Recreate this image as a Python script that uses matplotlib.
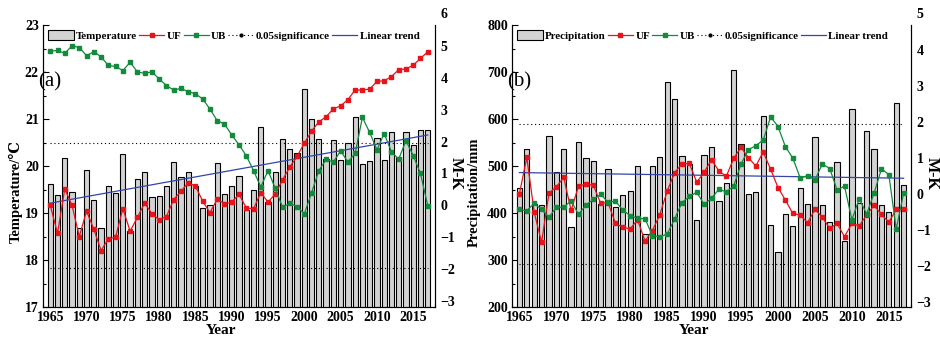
import matplotlib
matplotlib.use('Agg')
import matplotlib.pyplot as plt
from matplotlib.patches import Patch
from matplotlib.lines import Line2D
from matplotlib.ticker import MultipleLocator

plt.rcParams['font.family'] = ['Liberation Serif', 'DejaVu Serif']

years = list(range(1965, 2018))

temperature = [19.62, 19.38, 20.18, 19.45, 18.69, 19.92, 19.27, 18.68, 19.58, 19.42,
               20.25, 18.62, 19.73, 19.88, 19.35, 19.37, 19.57, 20.09, 19.77, 19.87,
               19.57, 19.11, 19.16, 20.07, 19.40, 19.57, 19.78, 19.06, 19.50, 20.82,
               19.23, 19.87, 20.57, 20.37, 20.28, 21.64, 20.99, 20.57, 20.15, 20.55,
               20.12, 20.50, 21.04, 20.04, 20.11, 20.59, 20.12, 20.73, 20.19, 20.73,
               20.45, 20.76, 20.76]
temp_uf = [0.0, -0.88, 0.52, 0.0, -0.98, -0.18, -0.75, -1.42, -1.05, -1.0,
           -0.10, -0.81, -0.38, 0.07, -0.26, -0.45, -0.35, 0.18, 0.44, 0.71,
           0.60, 0.13, -0.23, 0.19, 0.05, 0.10, 0.35, -0.08, -0.11, 0.40,
           0.10, 0.36, 0.80, 1.20, 1.54, 1.95, 2.33, 2.62, 2.78, 3.03,
           3.12, 3.32, 3.62, 3.62, 3.65, 3.89, 3.91, 4.04, 4.26, 4.28,
           4.40, 4.61, 4.82]
temp_ub = [4.84, 4.86, 4.77, 5.01, 4.95, 4.70, 4.82, 4.66, 4.39, 4.36,
           4.23, 4.49, 4.19, 4.14, 4.19, 3.97, 3.76, 3.62, 3.67, 3.57,
           3.50, 3.34, 3.02, 2.66, 2.55, 2.21, 1.90, 1.56, 1.09, 0.58,
           1.09, 0.53, -0.06, 0.06, -0.04, -0.27, 0.40, 1.09, 1.44, 1.36,
           1.71, 1.36, 1.63, 2.76, 2.29, 1.74, 2.25, 1.68, 1.45, 2.03,
           1.56, 1.00, -0.01]

precipitation = [454, 536, 420, 416, 564, 488, 536, 370, 551, 516,
                 510, 419, 493, 413, 438, 447, 499, 356, 499, 520,
                 679, 643, 521, 505, 386, 523, 540, 426, 464, 704,
                 547, 440, 445, 606, 375, 317, 398, 372, 453, 419,
                 562, 418, 381, 509, 341, 622, 422, 574, 536, 416,
                 402, 633, 460]
prec_uf = [0.0, 1.02, -0.50, -1.35, 0.02, 0.20, 0.46, -0.46, 0.22, 0.28,
           0.25, -0.26, -0.24, -0.82, -0.93, -0.97, -0.72, -1.31, -1.02, -0.58,
           0.08, 0.59, 0.84, 0.85, 0.33, 0.60, 0.96, 0.64, 0.49, 0.99,
           1.30, 1.01, 0.78, 1.17, 0.69, 0.18, -0.17, -0.54, -0.59, -0.80,
           -0.43, -0.65, -0.96, -0.82, -1.19, -0.82, -0.89, -0.58, -0.32, -0.57,
           -0.79, -0.43, -0.43]
prec_ub = [-0.43, -0.47, -0.26, -0.43, -0.65, -0.37, -0.37, -0.19, -0.57, -0.31,
           -0.15, -0.01, -0.23, -0.20, -0.45, -0.60, -0.68, -0.69, -1.16, -1.19,
           -1.12, -0.70, -0.24, -0.07, 0.05, -0.29, -0.12, 0.13, 0.06, 0.22,
           0.84, 1.23, 1.35, 1.50, 2.15, 1.88, 1.32, 1.00, 0.45, 0.51,
           0.39, 0.84, 0.71, 0.11, 0.22, -0.72, -0.13, -0.56, 0.02, 0.70,
           0.54, -0.98, 0.02]

trend_years = [1965, 2017]
temp_trend = [19.21, 20.66]
prec_trend = [486, 474]
sig_level = 1.96
xtick_years = [1965, 1970, 1975, 1980, 1985, 1990, 1995, 2000, 2005, 2010, 2015]

BAR = '#d3d3d3'
RED = '#e8141c'
GREEN = '#138a3c'
BLUE = '#3344aa'

fig = plt.figure(figsize=(9.4, 3.39), dpi=100)
axA = fig.add_axes([43/940, 32/339, 392/940, 282/339])
axB = fig.add_axes([512/940, 32/339, 399/940, 282/339])


def panel(ax, values, uf, ub, trend, ylim, ymaj, ymin, mk_lim, mk_ticks, mk_extra,
          ylabel, name, letter, ylab_x, year_x):
    ax.bar(years, values, width=0.72, color=BAR, edgecolor='black', linewidth=0.8, zorder=2)
    ax.plot(trend_years, trend, color=BLUE, lw=0.9, zorder=3)
    ax.set_xlim(1964, 2018)
    ax.set_ylim(*ylim)
    ax.set_xticks(xtick_years)
    ax.xaxis.set_minor_locator(MultipleLocator(1))
    ax.yaxis.set_major_locator(MultipleLocator(ymaj))
    ax.yaxis.set_minor_locator(MultipleLocator(ymin))
    ax.tick_params(which='both', direction='in', right=True, top=False, width=0.8)
    ax.tick_params(which='major', length=4, labelsize=10, pad=3)
    ax.tick_params(which='minor', length=2)
    for lab in ax.get_xticklabels() + ax.get_yticklabels():
        lab.set_fontweight('bold')
    for s in ax.spines.values():
        s.set_linewidth(0.8)
    ax.spines['top'].set_visible(False)
    ax.set_xlabel('Year', fontsize=11, fontweight='bold')
    ax.xaxis.set_label_coords(year_x, -0.062)
    ax.set_ylabel(ylabel, fontsize=10.5, fontweight='bold')
    ax.yaxis.set_label_coords(ylab_x, 0.408)
    ax.text(-0.013, 0.80, letter, transform=ax.transAxes, fontsize=15,
            ha='left', va='center')

    ax2 = ax.twinx()
    ax2.set_ylim(*mk_lim)
    ax2.set_yticks(mk_ticks)
    ax2.tick_params(length=0, pad=4, labelsize=10)
    for lab in ax2.get_yticklabels():
        lab.set_fontweight('bold')
    ax2.spines['top'].set_visible(False)
    for s in ax2.spines.values():
        s.set_linewidth(0.8)
    ax2.annotate(str(mk_extra), xy=(1, mk_extra), xycoords=('axes fraction', 'data'),
                 xytext=(4, 0), textcoords='offset points', ha='left', va='center',
                 fontsize=10, fontweight='bold', annotation_clip=False)
    ax2.plot(trend_years, [sig_level, sig_level], color='black', lw=0.8, ls=(0, (1, 2.5)))
    ax2.plot(trend_years, [-sig_level, -sig_level], color='black', lw=0.8, ls=(0, (1, 2.5)))
    ax2.plot(years, uf, color=RED, lw=0.9, marker='s', ms=3)
    ax2.plot(years, ub, color=GREEN, lw=0.9, marker='s', ms=3)
    ax.text(1.052, 0.475, 'M-K', transform=ax.transAxes, rotation=-90, fontsize=11.5,
            fontweight='bold', ha='center', va='center')

    handles = [Patch(facecolor=BAR, edgecolor='black', lw=0.8),
               Line2D([], [], color=RED, lw=0.9, marker='s', ms=3),
               Line2D([], [], color=GREEN, lw=0.9, marker='s', ms=3),
               Line2D([], [], color='black', lw=0.8, ls=(0, (1, 2.5)), marker='o', ms=2),
               Line2D([], [], color=BLUE, lw=0.9)]
    labels = [name, 'UF', 'UB', '0.05significance', 'Linear trend']
    ax2.legend(handles, labels, ncol=5, loc='upper left', bbox_to_anchor=(0.0, 1.0),
               frameon=False, prop={'weight': 'bold', 'size': 7.9}, handlelength=2.3,
               handletextpad=0.2, columnspacing=0.2, borderaxespad=0.1, numpoints=1,
               handleheight=0.9)


panel(axA, temperature, temp_uf, temp_ub, temp_trend, (17, 23), 1, 0.5,
      (-3.19, 5.66), [-3, -2, -1, 0, 1, 2, 3, 4, 5], 6,
      'Temperature/\u2103', 'Temperature', '(a)', -0.052, 0.454)
panel(axB, precipitation, prec_uf, prec_ub, prec_trend, (200, 800), 100, 50,
      (-3.15, 4.71), [-3, -2, -1, 0, 1, 2, 3, 4], 5,
      'Precipitation/mm', 'Precipitation', '(b)', -0.078, 0.456)

fig.savefig('out.png', dpi=100)
